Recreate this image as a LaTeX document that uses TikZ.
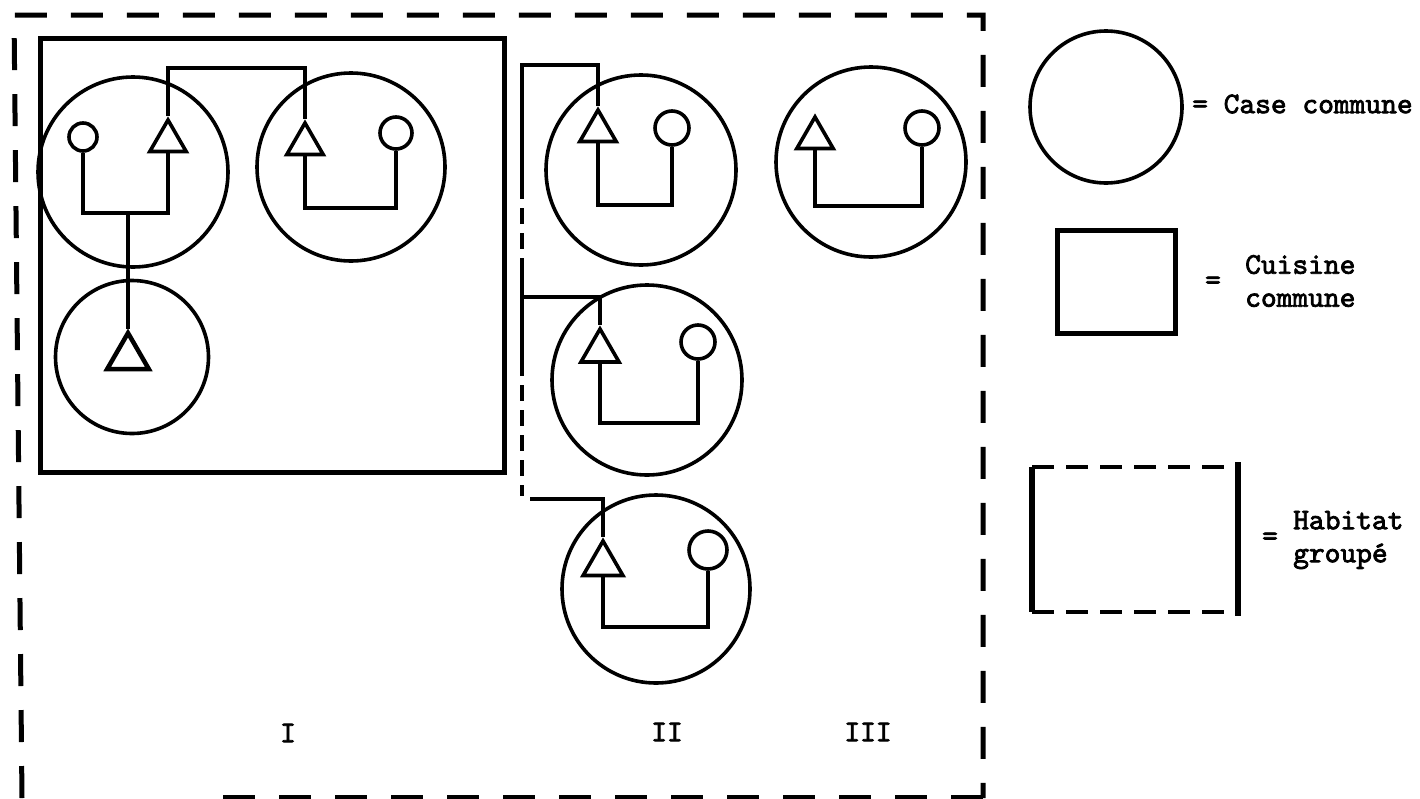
\documentclass[tikz,border=0pt]{standalone}
\usepackage{fontspec}
\newfontfamily\twfont{lmmono10-regular.otf}[FakeBold=2.5]
\usetikzlibrary{shapes.geometric,calc}
\tikzset{
  case/.style={circle,draw,line width=3.6pt,inner sep=0pt},
  fem/.style={circle,draw,line width=3.6pt,inner sep=0pt},
  male/.style={regular polygon,regular polygon sides=3,draw,line width=3.6pt,inner sep=0pt,minimum size=42pt},
  link/.style={line width=3.4pt},
  brline/.style={line width=4pt},
  kitchen/.style={draw,line width=5pt,inner sep=0pt},
  outerdash/.style={line width=5pt,dash pattern=on 32pt off 24pt},
  brdash/.style={line width=4pt,dash pattern=on 16pt off 9pt},
  legdash/.style={line width=4pt,dash pattern=on 22pt off 12pt},
  lbl/.style={font=\twfont\fontsize{30}{33}\selectfont,inner sep=0pt}
}
\begin{document}
\begin{tikzpicture}[x=1pt,y=-1pt]
\fill[white] (0,0) rectangle (1420,798);
\useasboundingbox (0,0) rectangle (1420,798);

% habitat groupe (outer dashed frame)
\draw[outerdash] (22,798) -- (14,15) -- (983,15) -- (983,798);
\draw[outerdash] (983,797) -- (200,797);

% cuisine commune I
\node[kitchen,anchor=north west,minimum width=464pt,minimum height=434pt] (kI) at (38,36) {};

% cases communes
\node[case,minimum size=190pt] (cA) at (133,172) {};
\node[case,minimum size=188pt] (cB) at (351,167) {};
\node[case,minimum size=153pt] (cC) at (132,357) {};
\node[case,minimum size=190pt] (cD) at (641,170) {};
\node[case,minimum size=190pt] (cE) at (647,380) {};
\node[case,minimum size=188pt] (cF) at (656,589) {};
\node[case,minimum size=190pt] (cG) at (871,162) {};

% women
\node[fem,minimum size=28pt] (fA) at (83,137) {};
\node[fem,minimum size=32pt] (fB) at (396,133) {};
\node[fem,minimum size=34pt] (fD) at (672,128) {};
\node[fem,minimum size=34pt] (fE) at (698,342) {};
\node[fem,minimum size=38pt] (fF) at (708,550) {};
\node[fem,minimum size=34pt] (fG) at (922,128) {};

% men
\node[male] (mA) at (168,141) {};
\node[male] (mB) at (305,144) {};
\node[male,minimum size=48pt,line width=4.5pt] (mC) at (128,357) {};
\node[male] (mD) at (598,131) {};
\node[male,minimum size=44pt] (mE) at (600,351) {};
\node[male,minimum size=46pt] (mF) at (603,564) {};
\node[male] (mG) at (815,138) {};

% couples
\draw[link] (fA.south) -- (fA.south |- 0,213) -| (mA.side 2);
\draw[link] (fB.south) -- (fB.south |- 0,208) -| (mB.side 2);
\draw[link] (fD.south) -- (fD.south |- 0,205) -| (mD.side 2);
\draw[link] (fE.south) -- (fE.south |- 0,423) -| (mE.side 2);
\draw[link] (fF.south) -- (fF.south |- 0,627) -| (mF.side 2);
\draw[link] (fG.south) -- (fG.south |- 0,206) -| (mG.side 2);

% filiation in I
\coordinate (barA) at (128,213);
\draw[link] (barA) -- (mC.corner 1);
\draw[link] (mA.corner 1) |- (mB.corner 1 |- 0,68) -- (mB.corner 1);

% bracket II
\coordinate (brT) at (522,65);
\coordinate (br1) at (522,183);
\coordinate (br2) at (522,260);
\coordinate (brE) at (522,297);
\coordinate (br3) at (522,360);
\coordinate (br4) at (522,496);
\coordinate (brF) at (530,499);
\draw[brline] (mD.corner 1) |- (brT) -- (br1);
\draw[brdash] (br1) -- (br2);
\draw[brline] (br2) -- (br3);
\draw[brline] (brE) -| (mE.corner 1);
\draw[brdash] (br3) -- (br4);
\draw[brline] (brF) -| (mF.corner 1);

% group labels
\node[lbl] (tI) at (288,733) {I};
\node[lbl] (tII) at (667,732) {II};
\node[lbl] (tIII) at (868,732) {III};

% legend
\node[case,minimum size=152pt] (lc) at (1106,107) {};
\node[lbl,anchor=west] (lct) at (1192,104) {= Case commune};

\node[kitchen,minimum width=118pt,minimum height=103pt] (lk) at (1116,281.5) {};
\node[lbl] (lkeq) at (1213,283) {=};
\node[lbl,anchor=west,align=left] (lkt) at (1245,281) {Cuisine\\commune};

\coordinate (h1) at (1032,467);
\coordinate (h2) at (1238,467);
\coordinate (h3) at (1238,612);
\coordinate (h4) at (1032,612);
\draw[line width=5.5pt] (h1) -- (h4);
\draw[line width=5.5pt] ($(h2)+(0,-5)$) -- ($(h3)+(0,4)$);
\draw[legdash] (h1) -- (h2);
\draw[legdash] (h4) -- (h3);
\node[lbl] (lheq) at (1270,539) {=};
\node[lbl,anchor=west,align=left] (lht) at (1293,540) {Habitat\\groupé};
\end{tikzpicture}
\end{document}
